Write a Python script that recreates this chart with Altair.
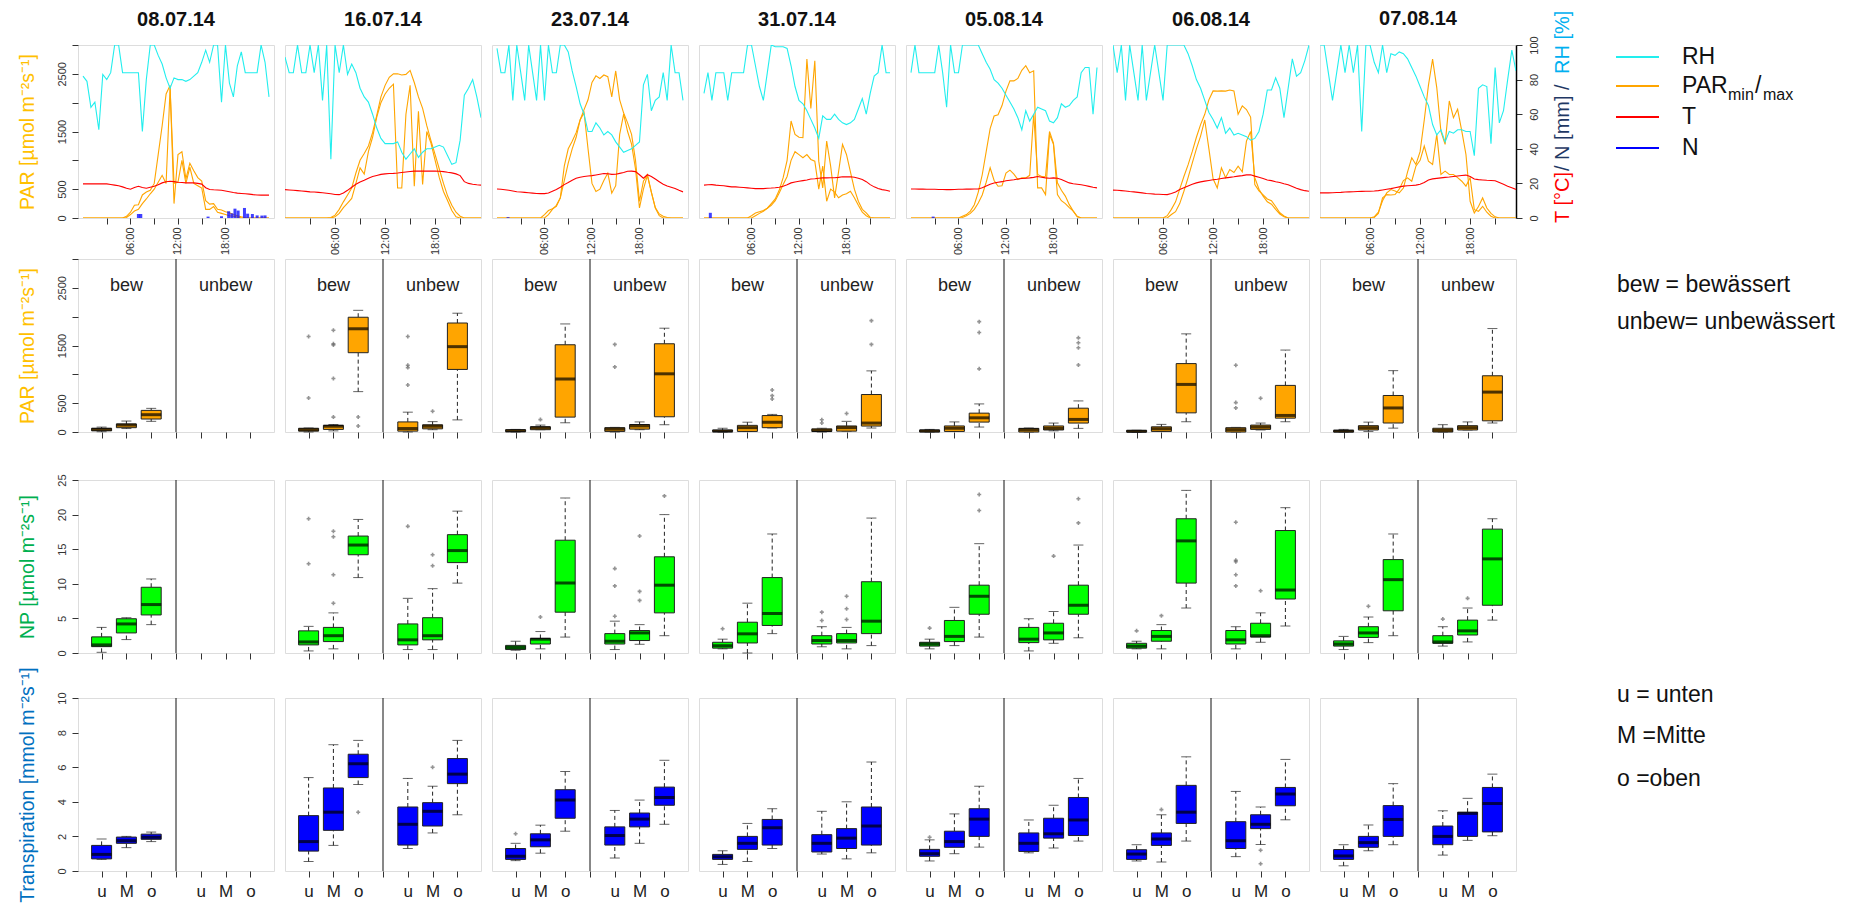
import altair as alt
import pandas as pd

# ----------------------------------------------------------------- data
DATES = ["08.07.14", "16.07.14", "23.07.14", "31.07.14", "05.08.14", "06.08.14", "07.08.14"]
HOURS = [k / 2 for k in range(48)]  # half-hourly time stamps 00:00 ... 23:30

RH = {
    "08.07.14": [82, 79, 64, 67, 51, 83, 80, 84, 100, 100, 84, 84, 84, 84, 84, 50, 80, 100, 100, 94,
                 89, 81, 75, 81, 80, 80, 79, 80, 82, 84, 90, 97, 90, 100, 100, 67, 100, 78, 70, 88,
                 96, 84, 84, 84, 84, 100, 90, 70],
    "16.07.14": [93, 84, 84, 100, 84, 84, 100, 84, 100, 68, 100, 34, 100, 84, 100, 83, 89, 84, 75, 70,
                 67, 60, 52, 46, 43, 43, 43, 44, 38, 34, 37, 40, 35, 38, 40, 40, 41, 42, 41, 36,
                 31, 32, 45, 71, 75, 80, 70, 58],
    "23.07.14": [98, 84, 84, 100, 68, 100, 84, 68, 100, 84, 68, 100, 68, 100, 84, 84, 100, 100, 96, 85,
                 76, 66, 60, 50, 50, 55, 52, 48, 50, 48, 44, 41, 38, 39, 40, 42, 44, 77, 83, 62,
                 68, 70, 84, 68, 100, 84, 84, 68],
    "31.07.14": [72, 84, 68, 84, 84, 84, 68, 84, 84, 84, 84, 100, 100, 88, 76, 68, 84, 100, 99, 99,
                 99, 98, 88, 76, 68, 66, 62, 57, 52, 46, 59, 57, 57, 60, 57, 55, 54, 55, 57, 63,
                 69, 60, 72, 82, 84, 100, 84, 84],
    "05.08.14": [84, 100, 84, 84, 84, 84, 84, 100, 84, 64, 100, 84, 84, 100, 100, 100, 100, 100, 95, 90,
                 86, 80, 78, 75, 71, 67, 63, 58, 51, 62, 56, 60, 64, 63, 62, 56, 55, 58, 66, 64,
                 65, 68, 70, 84, 87, 87, 60, 87],
    "06.08.14": [100, 84, 100, 68, 100, 84, 68, 100, 68, 84, 100, 84, 68, 100, 100, 100, 100, 100, 95, 88,
                 80, 75, 68, 61, 57, 52, 58, 49, 52, 48, 49, 48, 47, 45, 46, 50, 60, 74, 74, 81,
                 75, 58, 75, 92, 82, 84, 91, 100],
    "07.08.14": [100, 100, 84, 68, 84, 100, 84, 100, 84, 100, 50, 100, 100, 90, 84, 100, 84, 95, 94, 96,
                 95, 92, 87, 82, 76, 70, 65, 54, 48, 51, 44, 50, 49, 51, 51, 50, 50, 36, 75, 77,
                 76, 43, 87, 55, 62, 80, 97, 85],
}

PAR_MAX = {
    "08.07.14": [0, 0, 0, 0, 0, 0, 0, 0, 0, 0, 0, 30, 100, 220, 230, 400, 450, 480, 600, 1100,
                 1600, 2150, 2300, 250, 1100, 1150, 680, 950, 820, 700, 640, 300, 240, 250, 150, 140, 110, 90, 60, 40,
                 20, 5, 0, 0, 0, 0, 0, 0],
    "16.07.14": [0, 0, 0, 0, 0, 0, 0, 0, 0, 0, 0, 10, 50, 150, 280, 400, 520, 780, 1000, 1120,
                 1250, 1480, 1780, 2100, 2300, 2440, 2500, 2500, 2480, 2490, 2560, 2350, 2100, 1900, 1600, 1340, 1100, 850, 600, 380,
                 220, 100, 30, 0, 0, 0, 0, 0],
    "23.07.14": [0, 0, 0, 0, 0, 0, 0, 0, 0, 0, 0, 0, 60, 130, 160, 200, 348, 900, 1200, 1330,
                 1480, 1700, 1880, 2050, 2350, 2465, 2420, 2480, 2450, 2100, 2550, 2050, 1820, 1650, 1450, 1000, 290, 640, 750, 450,
                 180, 70, 30, 10, 0, 0, 0, 0],
    "31.07.14": [0, 0, 0, 0, 0, 0, 0, 0, 0, 0, 0, 0, 40, 87, 110, 130, 170, 250, 330, 480,
                 700, 1000, 1682, 1450, 1400, 1392, 2755, 1900, 2726, 986, 522, 1334, 899, 348, 800, 1276, 1102, 800, 500, 290,
                 150, 90, 10, 0, 0, 0, 0, 0],
    "05.08.14": [0, 0, 0, 0, 0, 0, 0, 0, 0, 0, 0, 0, 0, 30, 60, 120, 230, 450, 750, 1150,
                 1550, 1769, 1790, 1950, 2200, 2378, 2378, 2420, 2560, 2640, 2520, 2552, 522, 522, 406, 1450, 1276, 406, 300, 250,
                 180, 120, 20, 0, 0, 0, 0, 0],
    "06.08.14": [0, 0, 0, 0, 0, 0, 0, 0, 0, 0, 0, 0, 0, 40, 150, 280, 500, 720, 920, 1150,
                 1400, 1620, 1798, 2050, 2204, 2200, 2204, 2200, 2220, 2204, 1798, 1943, 1880, 1750, 580, 470, 400, 330, 300, 200,
                 90, 35, 0, 0, 0, 0, 0, 0],
    "07.08.14": [0, 0, 0, 0, 0, 0, 0, 0, 0, 0, 0, 0, 0, 20, 100, 300, 435, 493, 470, 435,
                 520, 800, 1044, 928, 1150, 1700, 2300, 2755, 2262, 1500, 1276, 2030, 1740, 1885, 1508, 1102, 290, 87, 200, 348,
                 174, 80, 20, 0, 0, 0, 0, 0],
}

PAR_MIN = {
    "08.07.14": [0, 0, 0, 0, 0, 0, 0, 0, 0, 0, 0, 10, 60, 120, 150, 250, 330, 420, 500, 620,
                 740, 600, 2250, 600, 620, 1000, 600, 880, 600, 560, 520, 150, 150, 200, 100, 80, 60, 40, 30, 15,
                 5, 0, 0, 0, 0, 0, 0, 0],
    "16.07.14": [0, 0, 0, 0, 0, 0, 0, 0, 0, 0, 0, 0, 20, 80, 180, 260, 340, 600, 870, 760,
                 1150, 1400, 1750, 2000, 2150, 2250, 2320, 520, 520, 1800, 2300, 550, 1850, 580, 1500, 1300, 1000, 700, 460, 300,
                 130, 20, 0, 0, 0, 0, 0, 0],
    "23.07.14": [0, 0, 0, 0, 0, 0, 0, 0, 0, 0, 0, 0, 0, 60, 150, 220, 350, 650, 950, 1200,
                 1400, 1700, 1827, 1200, 600, 460, 500, 650, 780, 430, 560, 1450, 1800, 1500, 1280, 850, 174, 500, 740, 450,
                 174, 40, 0, 0, 0, 0, 0, 0],
    "31.07.14": [0, 0, 0, 0, 0, 0, 0, 0, 0, 0, 0, 0, 0, 40, 80, 116, 170, 220, 300, 435,
                 580, 720, 1000, 1150, 1100, 1044, 1100, 1015, 986, 500, 900, 290, 500, 450, 350, 400, 420, 464, 350, 220,
                 100, 40, 0, 0, 0, 0, 0, 0],
    "05.08.14": [0, 0, 0, 0, 0, 0, 0, 0, 0, 0, 0, 0, 0, 10, 40, 80, 150, 260, 400, 620,
                 870, 650, 551, 560, 780, 830, 760, 667, 696, 696, 740, 1798, 754, 720, 725, 1500, 1300, 609, 480, 380,
                 232, 120, 30, 0, 0, 0, 0, 0],
    "06.08.14": [0, 0, 0, 0, 0, 0, 0, 0, 0, 0, 0, 0, 0, 0, 60, 110, 250, 464, 700, 950,
                 1200, 1420, 1700, 1200, 680, 522, 870, 700, 841, 790, 900, 800, 1334, 1500, 700, 500, 380, 280, 240, 150,
                 70, 20, 0, 0, 0, 0, 0, 0],
    "07.08.14": [0, 0, 0, 0, 0, 0, 0, 0, 0, 0, 0, 0, 0, 10, 80, 348, 406, 400, 406, 500,
                 650, 696, 638, 899, 1000, 1247, 986, 928, 1450, 754, 812, 754, 754, 700, 638, 551, 700, 145, 116, 203,
                 100, 30, 0, 0, 0, 0, 0, 0],
}

TEMP = {
    "08.07.14": [19.7, 19.7, 19.7, 19.7, 19.7, 19.7, 19.7, 19.4, 19.0, 18.6, 18.0, 17.2, 16.6, 17.6, 18.3, 17.6, 17.2, 17.8, 18.3, 19.2,
                 20.3, 21.0, 21.2, 21.0, 20.7, 20.5, 20.3, 20.3, 20.3, 20.0, 19.6, 17.5, 16.5, 16.3, 16.2, 16.0, 15.6, 15.2, 14.7, 14.4,
                 14.2, 14.0, 13.8, 13.5, 13.3, 13.2, 13.2, 13.2],
    "16.07.14": [16.4, 16.2, 16.0, 15.8, 15.6, 15.4, 15.1, 15.0, 14.8, 14.6, 14.3, 14.0, 13.6, 13.5, 14.5, 16.0, 17.8, 19.5, 20.8, 21.8,
                 23.0, 24.0, 24.6, 25.2, 25.5, 25.7, 25.8, 26.0, 26.3, 26.6, 26.9, 27.1, 27.1, 27.1, 27.1, 27.1, 27.1, 27.0, 26.8, 26.4,
                 26.1, 25.5, 24.5, 21.0, 20.0, 19.5, 19.2, 19.0],
    "23.07.14": [16.8, 16.6, 16.3, 16.0, 15.6, 15.2, 15.0, 14.8, 14.6, 14.4, 14.2, 14.1, 14.1, 14.4, 15.5, 16.5, 17.8, 19.3, 20.5, 21.8,
                 23.0, 23.6, 24.0, 24.3, 24.5, 24.9, 25.3, 25.7, 25.6, 25.2, 25.3, 25.8, 26.3, 27.0, 27.1, 26.8, 25.0, 23.0, 25.0, 24.0,
                 22.5, 21.0, 19.5, 18.5, 17.8, 17.0, 16.0, 15.1],
    "31.07.14": [19.0, 19.2, 19.3, 19.0, 18.8, 18.6, 18.3, 18.0, 18.0, 17.8, 17.6, 17.4, 17.2, 17.0, 17.0, 17.0, 17.2, 17.3, 17.5, 17.8,
                 18.4, 19.2, 20.3, 20.8, 21.2, 21.6, 22.0, 22.5, 22.7, 23.0, 23.2, 23.2, 23.3, 23.3, 23.5, 23.8, 23.8, 23.8, 23.6, 23.0,
                 22.2, 21.0, 19.3, 18.0, 17.0, 16.4, 16.0, 15.5],
    "05.08.14": [16.8, 16.8, 16.7, 16.7, 16.6, 16.6, 16.6, 16.5, 16.5, 16.4, 16.4, 16.5, 16.6, 16.6, 16.7, 16.7, 16.8, 16.8, 17.5, 18.5,
                 19.5, 20.2, 20.7, 21.0, 21.5, 21.8, 22.1, 22.5, 22.8, 23.0, 23.2, 23.5, 24.0, 23.6, 23.2, 23.0, 23.2, 23.0, 22.2, 21.3,
                 20.3, 19.8, 19.5, 19.2, 18.8, 18.3, 17.8, 17.4],
    "06.08.14": [16.1, 16.0, 15.8, 15.6, 15.3, 15.1, 14.8, 14.5, 14.2, 14.0, 13.8, 13.7, 13.6, 13.5, 14.2, 15.0, 16.5, 17.5, 18.5, 19.5,
                 20.3, 20.9, 21.3, 21.7, 22.1, 22.4, 22.8, 23.2, 23.5, 23.8, 24.2, 24.5, 24.9, 25.0, 24.2, 23.6, 22.8, 22.0, 21.6, 21.0,
                 20.5, 19.8, 19.2, 18.2, 17.2, 16.4, 15.8, 15.5],
    "07.08.14": [14.5, 14.5, 14.5, 14.6, 14.7, 14.8, 15.0, 15.1, 15.2, 15.3, 15.4, 15.5, 15.5, 15.6, 15.8, 16.2, 16.6, 17.0, 17.5, 18.0,
                 18.4, 18.6, 18.8, 19.0, 19.5, 20.5, 22.0, 22.6, 22.9, 23.2, 23.5, 23.7, 24.0, 24.3, 24.6, 24.8, 24.0, 22.5, 22.2, 22.0,
                 21.8, 21.7, 21.5, 20.5, 19.5, 18.4, 17.5, 16.5],
}

# precipitation N [mm]: (hour, mm)
RAIN = {
    "08.07.14": [(7.0, 2.3), (7.3, 2.3), (15.8, 0.8), (17.5, 1.0), (18.4, 3.9), (18.8, 2.7), (19.2, 5.4),
                 (19.6, 4.3), (20.4, 5.8), (20.8, 2.5), (21.4, 2.3), (22.0, 1.5), (22.6, 1.4), (23.0, 1.5)],
    "16.07.14": [],
    "23.07.14": [(1.4, 0.5)],
    "31.07.14": [(0.8, 3.0)],
    "05.08.14": [(2.8, 0.8)],
    "06.08.14": [],
    "07.08.14": [],
}

# box statistics: (date, treatment, level, lower whisker, Q1, median, Q3, upper whisker)
PAR_BOX = [
    ("08.07.14", "bew", "u", 5, 20, 45, 65, 85), ("08.07.14", "bew", "M", 60, 75, 120, 140, 190),
    ("08.07.14", "bew", "o", 185, 225, 300, 375, 410),
    ("16.07.14", "bew", "u", 0, 15, 40, 65, 70), ("16.07.14", "bew", "M", 20, 45, 100, 115, 130),
    ("16.07.14", "bew", "o", 700, 1375, 1790, 1990, 2110), ("16.07.14", "unbew", "u", 0, 15, 60, 175, 344),
    ("16.07.14", "unbew", "M", 40, 55, 100, 125, 180), ("16.07.14", "unbew", "o", 210, 1085, 1480, 1890, 2060),
    ("23.07.14", "bew", "u", 0, 5, 20, 40, 45), ("23.07.14", "bew", "M", 40, 40, 75, 90, 120),
    ("23.07.14", "bew", "o", 160, 258, 917, 1513, 1874), ("23.07.14", "unbew", "u", 0, 10, 50, 75, 80),
    ("23.07.14", "unbew", "M", 40, 50, 105, 130, 175), ("23.07.14", "unbew", "o", 126, 264, 1009, 1530, 1800),
    ("31.07.14", "bew", "u", 0, 5, 15, 35, 65), ("31.07.14", "bew", "M", 10, 10, 75, 115, 170),
    ("31.07.14", "bew", "o", 70, 75, 170, 285, 305), ("31.07.14", "unbew", "u", 0, 10, 25, 55, 65),
    ("31.07.14", "unbew", "M", 15, 15, 75, 105, 185), ("31.07.14", "unbew", "o", 69, 103, 155, 650, 1060),
    ("05.08.14", "bew", "u", 0, 0, 20, 35, 45), ("05.08.14", "bew", "M", 10, 10, 65, 105, 175),
    ("05.08.14", "bew", "o", 86, 172, 246, 327, 487), ("05.08.14", "unbew", "u", 0, 0, 40, 63, 70),
    ("05.08.14", "unbew", "M", 20, 35, 65, 105, 155), ("05.08.14", "unbew", "o", 63, 155, 218, 413, 539),
    ("06.08.14", "bew", "u", 0, 0, 10, 30, 30), ("06.08.14", "bew", "M", 10, 10, 55, 90, 132),
    ("06.08.14", "bew", "o", 178, 332, 825, 1186, 1702), ("06.08.14", "unbew", "u", 0, 0, 40, 75, 80),
    ("06.08.14", "unbew", "M", 35, 45, 85, 120, 155), ("06.08.14", "unbew", "o", 178, 240, 287, 808, 1421),
    ("07.08.14", "bew", "u", 0, 0, 15, 30, 45), ("07.08.14", "bew", "M", 10, 35, 74, 110, 171),
    ("07.08.14", "bew", "o", 67, 156, 417, 633, 1064), ("07.08.14", "unbew", "u", 0, 0, 30, 65, 127),
    ("07.08.14", "unbew", "M", 35, 35, 75, 110, 175), ("07.08.14", "unbew", "o", 156, 194, 692, 975, 1794),
]
NP_BOX = [
    ("08.07.14", "bew", "u", 0.1, 0.92, 1.17, 2.33, 3.7), ("08.07.14", "bew", "M", 1.94, 2.9, 4.2, 4.95, 5.1),
    ("08.07.14", "bew", "o", 4.1, 5.5, 7.0, 9.5, 10.7),
    ("16.07.14", "bew", "u", 0.3, 1.17, 1.6, 3.2, 3.85), ("16.07.14", "bew", "M", 0.6, 1.65, 2.5, 3.7, 5.8),
    ("16.07.14", "bew", "o", 10.9, 14.2, 15.6, 16.9, 19.3), ("16.07.14", "unbew", "u", 0.5, 1.17, 1.9, 4.2, 7.9),
    ("16.07.14", "unbew", "M", 0.5, 1.9, 2.5, 5.1, 9.3), ("16.07.14", "unbew", "o", 10.1, 13.06, 14.8, 17.1, 20.5),
    ("23.07.14", "bew", "u", 0.4, 0.5, 0.8, 1.1, 1.7), ("23.07.14", "bew", "M", 0.6, 1.3, 2.0, 2.1, 3.1),
    ("23.07.14", "bew", "o", 2.3, 5.9, 10.1, 16.3, 22.4), ("23.07.14", "unbew", "u", 0.5, 1.3, 1.7, 2.8, 4.6),
    ("23.07.14", "unbew", "M", 1.26, 1.8, 2.9, 3.25, 4.1), ("23.07.14", "unbew", "o", 2.5, 5.8, 9.8, 13.9, 20.0),
    ("31.07.14", "bew", "u", 0.6, 0.7, 1.05, 1.55, 2.0), ("31.07.14", "bew", "M", 0.0, 1.45, 2.77, 4.45, 7.2),
    ("31.07.14", "bew", "o", 2.8, 3.98, 5.7, 10.9, 17.2), ("31.07.14", "unbew", "u", 0.9, 1.3, 1.8, 2.5, 3.8),
    ("31.07.14", "unbew", "M", 0.6, 1.45, 1.8, 2.8, 3.7), ("31.07.14", "unbew", "o", 1.07, 2.8, 4.6, 10.3, 19.5),
    ("05.08.14", "bew", "u", 0.6, 1.0, 1.3, 1.55, 2.0), ("05.08.14", "bew", "M", 1.07, 1.65, 2.4, 4.7, 6.6),
    ("05.08.14", "bew", "o", 2.3, 5.6, 8.2, 9.8, 15.8), ("05.08.14", "unbew", "u", 0.3, 1.5, 2.0, 3.7, 4.95),
    ("05.08.14", "unbew", "M", 1.4, 1.9, 2.9, 4.3, 6.0), ("05.08.14", "unbew", "o", 2.2, 5.6, 6.9, 9.8, 15.6),
    ("06.08.14", "bew", "u", 0.6, 0.7, 1.0, 1.4, 1.7), ("06.08.14", "bew", "M", 0.6, 1.7, 2.4, 3.25, 4.1),
    ("06.08.14", "bew", "o", 6.5, 10.1, 16.2, 19.4, 23.5), ("06.08.14", "unbew", "u", 0.6, 1.3, 1.9, 3.25, 3.8),
    ("06.08.14", "unbew", "M", 1.55, 2.3, 2.5, 4.3, 5.8), ("06.08.14", "unbew", "o", 3.9, 7.8, 9.1, 17.7, 21.0),
    ("07.08.14", "bew", "u", 0.5, 1.0, 1.3, 1.75, 2.4), ("07.08.14", "bew", "M", 1.5, 2.25, 2.9, 3.8, 5.2),
    ("07.08.14", "bew", "o", 2.5, 6.1, 10.6, 13.5, 17.2), ("07.08.14", "unbew", "u", 1.0, 1.4, 1.6, 2.5, 3.8),
    ("07.08.14", "unbew", "M", 1.6, 2.6, 3.2, 4.75, 6.5), ("07.08.14", "unbew", "o", 4.75, 6.9, 13.6, 17.9, 19.4),
]
TR_BOX = [
    ("08.07.14", "bew", "u", 0.67, 0.7, 0.96, 1.48, 1.85), ("08.07.14", "bew", "M", 1.35, 1.6, 1.75, 1.96, 2.0),
    ("08.07.14", "bew", "o", 1.7, 1.83, 1.95, 2.13, 2.25),
    ("16.07.14", "bew", "u", 0.55, 1.15, 1.7, 3.2, 5.4), ("16.07.14", "bew", "M", 1.48, 2.35, 3.4, 4.8, 7.3),
    ("16.07.14", "bew", "o", 5.0, 5.4, 6.2, 6.75, 7.55), ("16.07.14", "unbew", "u", 1.3, 1.5, 2.7, 3.7, 5.35),
    ("16.07.14", "unbew", "M", 2.2, 2.6, 3.45, 3.95, 4.9), ("16.07.14", "unbew", "o", 3.25, 5.05, 5.6, 6.5, 7.55),
    ("23.07.14", "bew", "u", 0.6, 0.67, 0.85, 1.3, 1.6), ("23.07.14", "bew", "M", 1.03, 1.4, 1.8, 2.15, 2.65),
    ("23.07.14", "bew", "o", 2.3, 3.05, 4.1, 4.7, 5.75), ("23.07.14", "unbew", "u", 0.75, 1.5, 2.05, 2.55, 3.5),
    ("23.07.14", "unbew", "M", 1.6, 2.55, 3.0, 3.35, 4.1), ("23.07.14", "unbew", "o", 2.7, 3.8, 4.25, 4.85, 6.4),
    ("31.07.14", "bew", "u", 0.38, 0.67, 0.82, 0.96, 1.17), ("31.07.14", "bew", "M", 0.55, 1.25, 1.6, 2.0, 2.75),
    ("31.07.14", "bew", "o", 1.3, 1.5, 2.5, 2.98, 3.6), ("31.07.14", "unbew", "u", 0.98, 1.1, 1.6, 2.1, 3.45),
    ("31.07.14", "unbew", "M", 0.7, 1.3, 1.9, 2.45, 4.0), ("31.07.14", "unbew", "o", 1.05, 1.5, 2.6, 3.7, 6.3),
    ("05.08.14", "bew", "u", 0.58, 0.85, 1.0, 1.25, 1.8), ("05.08.14", "bew", "M", 1.0, 1.37, 1.7, 2.3, 3.3),
    ("05.08.14", "bew", "o", 1.38, 2.0, 3.0, 3.6, 4.9), ("05.08.14", "unbew", "u", 1.05, 1.13, 1.6, 2.2, 2.95),
    ("05.08.14", "unbew", "M", 1.33, 1.9, 2.15, 3.05, 3.8), ("05.08.14", "unbew", "o", 1.73, 2.05, 2.95, 4.25, 5.35),
    ("06.08.14", "bew", "u", 0.58, 0.67, 0.98, 1.23, 1.52), ("06.08.14", "bew", "M", 0.52, 1.48, 1.85, 2.2, 3.25),
    ("06.08.14", "bew", "o", 1.73, 2.75, 3.4, 4.95, 6.6), ("06.08.14", "unbew", "u", 0.83, 1.3, 1.75, 2.85, 4.6),
    ("06.08.14", "unbew", "M", 1.53, 2.45, 2.7, 3.25, 3.7), ("06.08.14", "unbew", "o", 2.96, 3.77, 4.45, 4.83, 6.45),
    ("07.08.14", "bew", "u", 0.3, 0.67, 0.87, 1.24, 1.52), ("07.08.14", "bew", "M", 1.17, 1.37, 1.64, 2.0, 2.66),
    ("07.08.14", "bew", "o", 1.52, 2.0, 2.98, 3.78, 5.05), ("07.08.14", "unbew", "u", 0.92, 1.52, 2.0, 2.6, 3.48),
    ("07.08.14", "unbew", "M", 1.77, 2.0, 3.33, 3.4, 4.2), ("07.08.14", "unbew", "o", 2.04, 2.26, 3.9, 4.83, 5.6),
]

# outliers: (date, treatment, level, value)
PAR_OUT = [
    ("16.07.14", "bew", "u", 1656), ("16.07.14", "bew", "u", 590),
    ("16.07.14", "bew", "M", 1765), ("16.07.14", "bew", "M", 1530), ("16.07.14", "bew", "M", 1510),
    ("16.07.14", "bew", "M", 928), ("16.07.14", "bew", "M", 258),
    ("16.07.14", "bew", "o", 260), ("16.07.14", "bew", "o", 103),
    ("16.07.14", "unbew", "u", 1656), ("16.07.14", "unbew", "u", 1158), ("16.07.14", "unbew", "u", 1117),
    ("16.07.14", "unbew", "u", 814), ("16.07.14", "unbew", "M", 361),
    ("23.07.14", "bew", "M", 215), ("23.07.14", "unbew", "u", 1519), ("23.07.14", "unbew", "u", 1129),
    ("31.07.14", "bew", "o", 573), ("31.07.14", "bew", "o", 630), ("31.07.14", "bew", "o", 728),
    ("31.07.14", "unbew", "u", 155), ("31.07.14", "unbew", "u", 212), ("31.07.14", "unbew", "M", 321),
    ("31.07.14", "unbew", "o", 1519), ("31.07.14", "unbew", "o", 1931),
    ("05.08.14", "bew", "o", 1095), ("05.08.14", "bew", "o", 1725), ("05.08.14", "bew", "o", 1914),
    ("05.08.14", "unbew", "o", 1163), ("05.08.14", "unbew", "o", 1461), ("05.08.14", "unbew", "o", 1547),
    ("05.08.14", "unbew", "o", 1633),
    ("06.08.14", "unbew", "u", 1158), ("06.08.14", "unbew", "u", 510), ("06.08.14", "unbew", "u", 418),
    ("06.08.14", "unbew", "M", 585),
]
NP_OUT = [
    ("16.07.14", "bew", "u", 19.4), ("16.07.14", "bew", "u", 12.9),
    ("16.07.14", "bew", "M", 7.2), ("16.07.14", "bew", "M", 11.3), ("16.07.14", "bew", "M", 16.8),
    ("16.07.14", "bew", "M", 17.6), ("16.07.14", "unbew", "u", 18.3),
    ("16.07.14", "unbew", "M", 12.6), ("16.07.14", "unbew", "M", 14.2),
    ("23.07.14", "bew", "M", 5.2), ("23.07.14", "unbew", "u", 5.3), ("23.07.14", "unbew", "u", 9.7),
    ("23.07.14", "unbew", "u", 12.2), ("23.07.14", "unbew", "M", 7.6), ("23.07.14", "unbew", "M", 8.9),
    ("23.07.14", "unbew", "M", 16.9), ("23.07.14", "unbew", "o", 22.7),
    ("31.07.14", "bew", "u", 3.5), ("31.07.14", "unbew", "u", 4.7), ("31.07.14", "unbew", "u", 5.9),
    ("31.07.14", "unbew", "M", 4.85), ("31.07.14", "unbew", "M", 6.4), ("31.07.14", "unbew", "M", 8.2),
    ("05.08.14", "bew", "u", 3.6), ("05.08.14", "bew", "o", 20.6), ("05.08.14", "bew", "o", 22.9),
    ("05.08.14", "unbew", "M", 14.0), ("05.08.14", "unbew", "o", 18.8), ("05.08.14", "unbew", "o", 22.3),
    ("06.08.14", "bew", "u", 3.2), ("06.08.14", "bew", "M", 5.4),
    ("06.08.14", "unbew", "u", 9.7), ("06.08.14", "unbew", "u", 11.3), ("06.08.14", "unbew", "u", 13.2),
    ("06.08.14", "unbew", "u", 13.4), ("06.08.14", "unbew", "u", 18.9), ("06.08.14", "unbew", "M", 9.0),
    ("07.08.14", "bew", "M", 6.75), ("07.08.14", "unbew", "u", 4.9), ("07.08.14", "unbew", "M", 7.9),
]
TR_OUT = [
    ("16.07.14", "bew", "o", 3.4), ("16.07.14", "unbew", "M", 6.0), ("23.07.14", "bew", "u", 2.15),
    ("05.08.14", "bew", "u", 1.95), ("06.08.14", "bew", "M", 3.55),
    ("06.08.14", "unbew", "M", 1.2), ("06.08.14", "unbew", "M", 0.42),
]

LEGEND_NAMES = ["RH", "PAR", "T", "N"]
NOTES_TOP = ["bew = bewässert", "unbew= unbewässert"]
NOTES_BOTTOM = ["u = unten", "M =Mitte", "o =oben"]
GROUP_LABELS = ["bew", "unbew"]

# ----------------------------------------------------------------- style
FONT = "Liberation Sans"
NARROW = "Liberation Sans Narrow, Liberation Sans"
W, H = 196, 173
HSPACE = 9
DARK = "#333333"
C_RH, C_PAR, C_T, C_N = "#22EEEE", "#FFA500", "#FF0000", "#1010FF"
POS = {("bew", "u"): 1, ("bew", "M"): 2, ("bew", "o"): 3,
       ("unbew", "u"): 5, ("unbew", "M"): 6, ("unbew", "o"): 7}


def box_frame(rows):
    df = pd.DataFrame(rows, columns=["date", "trt", "lvl", "lo", "q1", "med", "q3", "hi"])
    df["pos"] = [POS[(t, l)] for t, l in zip(df["trt"], df["lvl"])]
    return df


def out_frame(rows):
    df = pd.DataFrame(rows, columns=["date", "trt", "lvl", "v"])
    df["pos"] = [POS[(t, l)] for t, l in zip(df["trt"], df["lvl"])]
    return df


def left_axis(values, labelled, title, color):
    cond = " || ".join(f"datum.value == {v}" for v in labelled)
    return alt.Axis(orient="left", values=values, format="d", labelExpr=f"({cond}) ? datum.label : ''",
                    labelAngle=270, labelAlign="center", labelBaseline="bottom", labelPadding=5,
                    labelFont=FONT, labelFontSize=11, labelColor=DARK, labelOverlap=False, labelFlush=False,
                    tickSize=6, tickColor=DARK, domain=False, grid=False, minExtent=24, maxExtent=24,
                    title=title, titleColor=color, titleFont=FONT, titleFontSize=19.5, titleFontWeight="normal",
                    titlePadding=17)


ROWS = {
    "par": dict(box=box_frame(PAR_BOX), out=out_frame(PAR_OUT), dom=[0, 3000], color="#FFA500",
                axis=left_axis([0, 500, 1000, 1500, 2000, 2500, 3000], [0, 500, 1500, 2500],
                               "PAR [µmol m⁻²s⁻¹]", "#FFC000"), ext=40),
    "np": dict(box=box_frame(NP_BOX), out=out_frame(NP_OUT), dom=[0, 25], color="#00FF00",
               axis=left_axis([0, 5, 10, 15, 20, 25], [0, 5, 10, 15, 20, 25],
                              "NP [µmol m⁻²s⁻¹]", "#00B050"), ext=12),
    "tr": dict(box=box_frame(TR_BOX), out=out_frame(TR_OUT), dom=[0, 10], color="#0000FF",
               axis=left_axis([0, 2, 4, 6, 8, 10], [0, 2, 4, 6, 8, 10],
                              "Transpiration [mmol m⁻²s⁻¹]", "#0070C0"), ext=30),
}


def ts_xaxis():
    return alt.Axis(values=[3, 6, 9, 12, 15, 18, 21],
                    labelExpr="datum.value == 6 ? '06:00' : datum.value == 12 ? '12:00' : datum.value == 18 ? '18:00' : ''",
                    labelAngle=270, labelAlign="right", labelBaseline="middle", labelPadding=3,
                    labelFont=FONT, labelFontSize=11, labelColor=DARK, labelOverlap=False, labelFlush=False,
                    tickSize=6, tickColor=DARK, domain=False, grid=False, title=None,
                    minExtent=39, maxExtent=39)


RIGHT_AXIS = alt.Axis(orient="right", values=[0, 20, 40, 60, 80, 100], format="d",
                      labelAngle=270, labelAlign="center", labelBaseline="top", labelPadding=6,
                      labelFont=FONT, labelFontSize=11, labelColor=DARK, labelOverlap=False, labelFlush=False,
                      tickSize=6, tickColor=DARK, domain=True, domainColor="#000", domainWidth=1.5,
                      grid=False, title=None, minExtent=24, maxExtent=24)


def ts_panel(i, d):
    df = pd.DataFrame({"h": HOURS, "pmax": PAR_MAX[d], "pmin": PAR_MIN[d], "rh": RH[d], "t": TEMP[d]})
    X = alt.X("h:Q", scale=alt.Scale(domain=[0, 23.5], nice=False, zero=False), axis=ts_xaxis())
    ys_par = alt.Scale(domain=[0, 3000], nice=False, zero=False)
    ys_r = alt.Scale(domain=[0, 100], nice=False, zero=False)
    lax = ROWS["par"]["axis"] if i == 0 else None
    rax = RIGHT_AXIS if i == 6 else None
    base = alt.Chart(df)
    par = base.transform_fold(["pmax", "pmin"], as_=["series", "par"]).mark_line(
        color=C_PAR, strokeWidth=1.1, clip=True).encode(
        x=X, y=alt.Y("par:Q", scale=ys_par, axis=lax), detail="series:N")
    right_layers = []
    if RAIN[d]:
        rdf = pd.DataFrame(RAIN[d], columns=["h", "mm"])
        right_layers.append(alt.Chart(rdf).mark_bar(size=3, color=C_N, opacity=0.8).encode(
            x=X, y=alt.Y("mm:Q", scale=ys_r, axis=rax), y2=alt.datum(0)))
    right_layers.append(base.mark_line(color=C_RH, strokeWidth=1.1, clip=True).encode(
        x=X, y=alt.Y("rh:Q", scale=ys_r, axis=rax)))
    right_layers.append(base.mark_line(color=C_T, strokeWidth=1.1, clip=True).encode(
        x=X, y=alt.Y("t:Q", scale=ys_r, axis=rax)))
    right = alt.layer(*right_layers)
    # the right axis' top label reaches above the frame, so its title sits closer to it
    offset = 7 if i == 6 else 15
    return alt.layer(par, right).resolve_scale(y="independent").properties(
        width=W, height=H,
        title=alt.TitleParams(d, font=FONT, fontSize=20, fontWeight="bold", color="#111",
                              offset=offset, anchor="middle"))


def box_xaxis(row):
    ext = ROWS[row]["ext"]
    if row == "tr":
        return alt.Axis(values=[1, 2, 3, 4, 5, 6, 7],
                        labelExpr="(datum.value == 1 || datum.value == 5) ? 'u' : (datum.value == 2 || datum.value == 6) ? 'M' : (datum.value == 3 || datum.value == 7) ? 'o' : ''",
                        labelAngle=0, labelAlign="center", labelBaseline="top", labelPadding=6,
                        labelFont=NARROW, labelFontSize=17, labelColor="#222", labelOverlap=False,
                        labelFlush=False, tickSize=6, tickColor=DARK, domain=False, grid=False, title=None,
                        minExtent=ext, maxExtent=ext)
    return alt.Axis(values=[1, 2, 3, 4, 5, 6, 7], labels=False, tickSize=6, tickColor=DARK,
                    domain=False, grid=False, title=None, minExtent=ext, maxExtent=ext)


def box_panel(i, d, row):
    spec = ROWS[row]
    b = spec["box"][spec["box"]["date"] == d]
    o = spec["out"][spec["out"]["date"] == d]
    X = alt.X("pos:Q", scale=alt.Scale(domain=[0.25, 7.75], nice=False, zero=False), axis=box_xaxis(row))
    ys = alt.Scale(domain=spec["dom"], nice=False, zero=False)
    yax = spec["axis"] if i == 0 else None
    bc = alt.Chart(b)
    layers = [
        alt.Chart(pd.DataFrame({"pos": [4]})).mark_rule(color="#111", strokeWidth=1).encode(x=X),
        bc.mark_rule(color="#222", strokeDash=[4, 3], strokeWidth=1).encode(
            x=X, y=alt.Y("lo:Q", scale=ys, axis=yax), y2="q1:Q"),
        bc.mark_rule(color="#222", strokeDash=[4, 3], strokeWidth=1).encode(
            x=X, y=alt.Y("q3:Q", scale=ys, axis=yax), y2="hi:Q"),
        bc.mark_tick(orient="horizontal", size=10, thickness=1, color="#222").encode(
            x=X, y=alt.Y("lo:Q", scale=ys, axis=yax)),
        bc.mark_tick(orient="horizontal", size=10, thickness=1, color="#222").encode(
            x=X, y=alt.Y("hi:Q", scale=ys, axis=yax)),
        bc.mark_bar(size=20, fill=spec["color"], stroke="#222", strokeWidth=1).encode(
            x=X, y=alt.Y("q1:Q", scale=ys, axis=yax), y2="q3:Q"),
        bc.mark_tick(orient="horizontal", size=20, thickness=3, color="#000").encode(
            x=X, y=alt.Y("med:Q", scale=ys, axis=yax)),
    ]
    if len(o):
        layers.append(alt.Chart(o).mark_point(shape="cross", size=16, filled=True, color="#666").encode(
            x=X, y=alt.Y("v:Q", scale=ys, axis=yax)))
    if row == "par":
        lab = pd.DataFrame({"pos": [2, 6], "lab": GROUP_LABELS})
        layers.append(alt.Chart(lab).mark_text(font=FONT, fontSize=18, color="#222", baseline="middle").encode(
            x=X, y=alt.value(27), text="lab:N"))
    return alt.layer(*layers).properties(width=W, height=H)


def side_chart():
    one = pd.DataFrame({"k": [0]})
    layers = []
    # multi-coloured right axis title of the climate row
    for txt, col, y in [("T [°C]", C_T, 178), (" / N [mm] / ", "#1F3864", 126), ("RH [%]", "#00B0F0", 29)]:
        layers.append(alt.Chart(one).mark_text(text=txt, font=FONT, fontSize=20, color=col, angle=270,
                                               align="left", baseline="middle").encode(
            x=alt.value(22), y=alt.value(y)))
    # legend
    for name, col, y in zip(LEGEND_NAMES, [C_RH, C_PAR, C_T, "#0000FF"], [12, 41, 72, 103]):
        layers.append(alt.Chart(one).mark_rule(color=col, strokeWidth=2).encode(
            x=alt.value(75), x2=alt.value(118), y=alt.value(y)))
        layers.append(alt.Chart(one).mark_text(text=name, font=FONT, fontSize=23, color="#111",
                                               align="left", baseline="middle").encode(
            x=alt.value(141), y=alt.value(y)))
    for txt, x, y, fs in [("min", 187, 50, 16), ("/", 214, 41, 23), ("max", 222, 50, 16)]:
        layers.append(alt.Chart(one).mark_text(text=txt, font=FONT, fontSize=fs, color="#111",
                                               align="left", baseline="middle").encode(
            x=alt.value(x), y=alt.value(y)))
    for txt, y in zip(NOTES_TOP + NOTES_BOTTOM, [240, 277, 650, 691, 734]):
        layers.append(alt.Chart(one).mark_text(text=txt, font=FONT, fontSize=23, color="#111",
                                               align="left", baseline="middle").encode(
            x=alt.value(76), y=alt.value(y)))
    return alt.layer(*layers).properties(width=290, height=760,
                                          view=alt.ViewBackground(stroke="transparent", strokeWidth=0))


row1 = alt.hconcat(*[ts_panel(i, d) for i, d in enumerate(DATES)], spacing=HSPACE)
row2 = alt.hconcat(*[box_panel(i, d, "par") for i, d in enumerate(DATES)], spacing=HSPACE)
row3 = alt.hconcat(*[box_panel(i, d, "np") for i, d in enumerate(DATES)], spacing=HSPACE)
row4 = alt.hconcat(*[box_panel(i, d, "tr") for i, d in enumerate(DATES)], spacing=HSPACE)
grid = alt.vconcat(row1, row2, row3, row4, spacing=0)

chart = alt.hconcat(grid, side_chart(), spacing=0).properties(
    padding={"left": 8, "top": 0, "right": 0, "bottom": 0}
).configure_view(stroke="#333333", strokeWidth=1).configure(font=FONT)

chart.save("out.html", embed_options={"renderer": "svg", "actions": False})
